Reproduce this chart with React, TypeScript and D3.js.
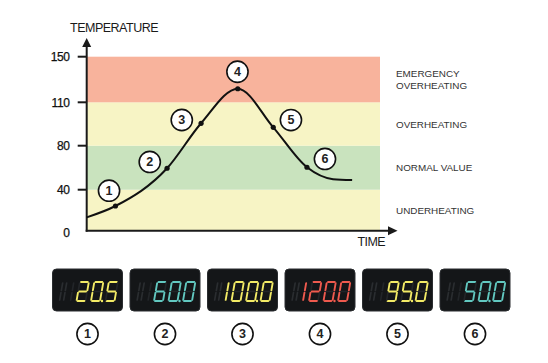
import * as React from "react";
import * as d3 from "d3";

// temperature axis
const tempTicks = [0, 40, 80, 110, 150];
const zoneBounds = [0, 40, 80, 110, 150];
const zoneLabels = [["UNDERHEATING"], ["NORMAL VALUE"], ["OVERHEATING"], ["EMERGENCY", "OVERHEATING"]];
const zoneColors = ["#f7f4c5", "#c9e3be", "#f7f4c5", "#f8b39c"];

// curve (time 0..100)
const curveTime = [0, 9.8, 27.4, 39.0, 51.5, 63.6, 75.1, 84, 90.5];
const curveTemp = [13, 24.1, 59.5, 95.5, 121.9, 92.7, 60.4, 49.6, 48.8];
const markerIdx = [1, 2, 3, 4, 5, 6];
const markerNames = ["1", "2", "3", "4", "5", "6"];

// displays
const displayValues = ["20.5", "60.0", "100.0", "120.0", "95.0", "50.0"];
const displayZones = ["yellow", "cyan", "yellow", "red", "yellow", "cyan"];

const W = 548;
const H = 363;
const FONT = "'Liberation Sans', Arial, sans-serif";
const LED: Record<string, string> = { yellow: "#f3eb66", cyan: "#62c8c0", red: "#ef5a4e" };

// badge offsets from their dot
const badgeOffset: [number, number][] = [
  [-6.4, -15.3], [-17.3, -6.3], [-19.3, -3.3], [-0.3, -17], [17.7, -7.3], [18, -8.3],
];

const SEGS: Record<string, string> = {
  "0": "abcdef", "1": "bc", "2": "abdeg", "3": "abcdg", "4": "bcfg",
  "5": "acdfg", "6": "acdefg", "7": "abc", "8": "abcdefg", "9": "abcdfg",
};

function segLines(w: number, h: number, g: number) {
  const m = -h / 2;
  return {
    a: [g, -h, w - g, -h],
    b: [w, -h + g, w, m - g],
    c: [w, m + g, w, -g],
    d: [g, 0, w - g, 0],
    e: [0, m + g, 0, -g],
    f: [0, -h + g, 0, m - g],
    g: [g, m, w - g, m],
  } as Record<string, number[]>;
}

function Digit({ x, y, ch, color, dim, w = 9, h = 19, only }: {
  x: number; y: number; ch: string | null; color: string; dim: string; w?: number; h?: number; only?: string;
}) {
  const lines = segLines(w, h, 1.1);
  const lit = ch ? SEGS[ch] : "";
  const all = only ?? "abcdefg";
  return (
    <g transform={`translate(${x},${y}) skewX(-10)`}>
      {all.split("").map((s) => {
        const [x1, y1, x2, y2] = lines[s];
        const on = lit.includes(s);
        return (
          <line key={s} x1={x1} y1={y1} x2={x2} y2={y2}
            stroke={on ? color : dim} strokeWidth={on ? 1.9 : 1.7} strokeLinecap="round" />
        );
      })}
    </g>
  );
}

function Display({ cx, value, zone }: { cx: number; value: string; zone: string }) {
  const bw = 70, bh = 42, top = 269;
  const L = cx - bw / 2;
  const color = LED[zone];
  const dim = "#222528";
  const half = value.length === 5 ? value[0] : null;
  const full = value.replace(".", "").slice(-3).split("");
  const base = top + 32;
  const pitch = 14.5;
  return (
    <g>
      <rect x={L} y={top} width={bw} height={bh} rx={4} fill="#141618" stroke="#2a2d30" strokeWidth={1} />
      {/* ghost position */}
      <Digit x={L + 7} y={base} ch={null} color={color} dim="#2a2d30" w={4} only="bcef" />
      {/* half digit */}
      <Digit x={L + 14} y={base} ch={half} color={color} dim={dim} w={4} only="bc" />
      {full.map((c, i) => (
        <Digit key={i} x={L + 24 + i * pitch} y={base} ch={c} color={color} dim={dim} />
      ))}
      <circle cx={L + 24 + pitch + 11} cy={base} r={1.2} fill={color} />
    </g>
  );
}

function Badge({ x, y, label }: { x: number; y: number; label: string }) {
  return (
    <g>
      <circle cx={x} cy={y} r={10.6} fill="#fff" stroke="#111" strokeWidth={1.6} />
      <text x={x} y={y + 4.3} textAnchor="middle" fontFamily={FONT} fontSize={12.5}
        fontWeight="bold" fill="#222">{label}</text>
    </g>
  );
}

export default function App() {
  const x0 = 86.7, x1 = 380, yAxisTop = 40;
  const y = d3.scaleLinear().domain(tempTicks).range([230.7, 189.7, 145.7, 102.3, 56.7]);
  const x = d3.scaleLinear().domain([0, 100]).range([x0, x1]);
  const pts = curveTime.map((t, i) => [t, curveTemp[i]] as [number, number]);
  const line = d3.line<[number, number]>()
    .x((d) => x(d[0]))
    .y((d) => y(d[1]))
    .curve(d3.curveMonotoneX);
  const dispX = d3.scalePoint<number>().domain(displayValues.map((_, i) => i)).range([87.5, 475]);

  return (
    <svg width={W} height={H} style={{ position: "absolute", left: 0, top: 0, background: "#fff" }}>
      {/* zones */}
      {zoneLabels.map((lab, i) => {
        const yt = y(zoneBounds[i + 1]);
        const yb = y(zoneBounds[i]);
        const mid = (yt + yb) / 2;
        return (
          <g key={i}>
            <rect x={x0} y={yt} width={x1 - x0} height={yb - yt} fill={zoneColors[i]} />
            {lab.map((t, j) => (
              <text key={j} x={396} y={mid + 3.6 + (j - (lab.length - 1) / 2) * 12.3}
                fontFamily={FONT} fontSize={9.9} fill="#333">{t}</text>
            ))}
          </g>
        );
      })}

      {/* y axis */}
      <line x1={x0} y1={y(0) + 1} x2={x0} y2={yAxisTop + 6} stroke="#1a1a1a" strokeWidth={2} />
      <path d={`M${x0},${yAxisTop - 2} L${x0 - 4.5},${yAxisTop + 7} L${x0 + 4.5},${yAxisTop + 7} Z`} fill="#1a1a1a" />
      {tempTicks.map((t) => (
        <g key={t}>
          {t > 0 && <line x1={x0 - 9} x2={x0} y1={y(t)} y2={y(t)} stroke="#1a1a1a" strokeWidth={2} />}
          <text x={69.5} y={y(t) + (t === 0 ? 6.5 : 4.3)} textAnchor="end" fontFamily={FONT}
            fontSize={12} letterSpacing={-0.4} fill="#111" stroke="#111" strokeWidth={0.25}>{t}</text>
        </g>
      ))}
      <text x={70} y={32} fontFamily={FONT} fontSize={12.5} letterSpacing={-0.5} fill="#1a1a1a">TEMPERATURE</text>

      {/* x axis */}
      <line x1={x0 - 1} y1={y(0)} x2={390} y2={y(0)} stroke="#1a1a1a" strokeWidth={2} />
      <path d={`M397.5,${y(0)} L388,${y(0) - 4.5} L388,${y(0) + 4.5} Z`} fill="#1a1a1a" />
      <text x={357.5} y={246} fontFamily={FONT} fontSize={12.5} letterSpacing={-0.6} fill="#1a1a1a">TIME</text>

      {/* curve */}
      <path d={line(pts) ?? ""} fill="none" stroke="#111" strokeWidth={2} />
      {markerIdx.map((k, i) => {
        const px = x(curveTime[k]);
        const py = y(curveTemp[k]);
        return (
          <g key={k}>
            <circle cx={px} cy={py} r={2.6} fill="#111" />
            <Badge x={px + badgeOffset[i][0]} y={py + badgeOffset[i][1]} label={markerNames[i]} />
          </g>
        );
      })}

      {/* displays */}
      {displayValues.map((v, i) => (
        <g key={i}>
          <Display cx={dispX(i)!} value={v} zone={displayZones[i]} />
          <Badge x={dispX(i)!} y={334} label={markerNames[i]} />
        </g>
      ))}
    </svg>
  );
}
